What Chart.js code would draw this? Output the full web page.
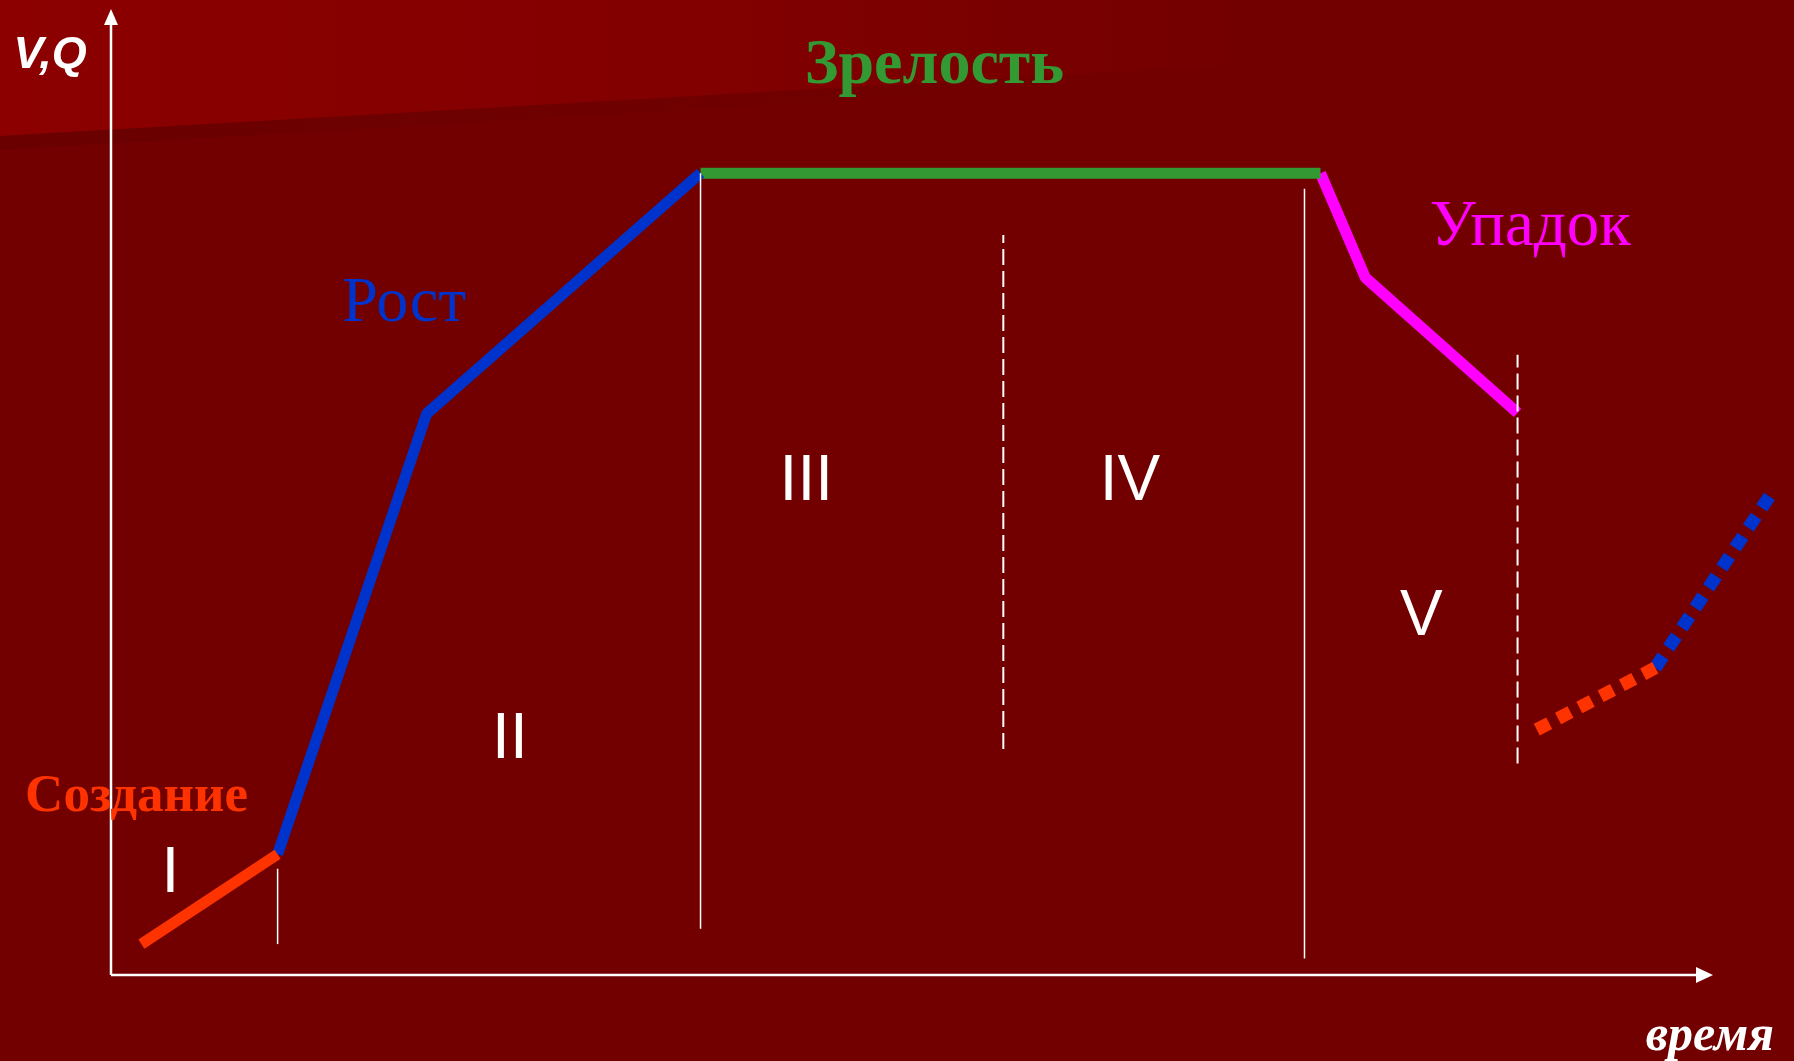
<!DOCTYPE html>
<html>
<head>
<meta charset="utf-8">
<script src="https://cdn.jsdelivr.net/npm/chart.js@4"></script>
<style>
html,body{margin:0;padding:0;background:#720000;overflow:hidden;}
#wrap{width:1794px;height:1061px;position:relative;}
</style>
</head>
<body>
<div id="wrap"><canvas id="c" width="1794" height="1061"></canvas></div>
<script>
// ---- data (time units 0..100 on x, V,Q units 0..100 on y) ----
const creationX = [1.9, 10.4];
const creationY = [3.2, 12.5];
const growthX = [10.4, 19.7, 36.8];
const growthY = [12.5, 58.1, 83.0];
const maturityX = [36.8, 75.5];
const maturityY = [83.0, 83.0];
const declineX = [75.5, 78.3, 87.8];
const declineY = [83.0, 72.2, 58.2];
const revivalRedX = [89.0, 96.4];
const revivalRedY = [25.4, 31.8];
const revivalBlueX = [96.4, 103.7];
const revivalBlueY = [31.8, 50.0];

// stage boundaries: x, yFrom, yTo, dashed
const boundaryX = [10.4, 36.8, 55.7, 74.5, 87.8];
const boundaryYFrom = [3.2, 4.8, 23.4, 1.7, 21.9];
const boundaryYTo = [11.0, 83.0, 76.6, 81.4, 64.2];
const boundaryDashed = [false, false, true, false, true];

// stage numerals
const stageLabels = ['I', 'II', 'III', 'IV', 'V'];
const stageX = [3.7, 24.9, 43.4, 63.6, 81.8];
const stageY = [10.6, 24.5, 51.2, 51.2, 37.2];

// phase names
const phaseLabels = ['Создание', 'Рост', 'Зрелость', 'Упадок'];
const phaseX = [1.6, 18.3, 51.4, 88.6];
const phaseY = [17.0, 67.7, 92.3, 75.6];

// axis titles
const axisTitles = ['V,Q', 'время'];
const axisTitleX = [-3.8, 99.8];
const axisTitleY = [93.9, -7.8];

function pts(xs, ys){ return xs.map((x,i)=>({x:x, y:ys[i]})); }

const RED = '#ff3300', BLUE = '#0033cc', GREEN = '#339933', MAGENTA = '#ff00ff';

const datasets = [];
boundaryX.forEach((x,i)=>{
  datasets.push({
    data: [{x:x,y:boundaryYFrom[i]},{x:x,y:boundaryYTo[i]}],
    borderColor: '#ffffff',
    borderWidth: boundaryDashed[i] ? 2 : 1.5,
    borderDash: boundaryDashed[i] ? [16,6] : [],
    pointRadius: 0, clip: false, borderCapStyle: 'butt'
  });
});
function seg(xs, ys, color, dotted){
  return {
    data: pts(xs, ys), borderColor: color, borderWidth: dotted ? 13 : 11,
    borderDash: dotted ? [14,10] : [], pointRadius: 0, tension: 0,
    clip: false, borderCapStyle: 'butt', borderJoinStyle: 'bevel'
  };
}
datasets.push(seg(creationX, creationY, RED, false));
datasets.push(seg(growthX, growthY, BLUE, false));
datasets.push(seg(maturityX, maturityY, GREEN, false));
datasets.push(seg(declineX, declineY, MAGENTA, false));
datasets.push(seg(revivalRedX, revivalRedY, RED, true));
datasets.push(seg(revivalBlueX, revivalBlueY, BLUE, true));

const bgPlugin = {
  id: 'bg',
  beforeDraw(chart){
    const ctx = chart.ctx, W = chart.width, H = chart.height;
    ctx.save();
    ctx.fillStyle = '#720000';
    ctx.fillRect(0,0,W,H);
    // lighter slanted band at the top
    const g = ctx.createLinearGradient(0,0,1250,0);
    g.addColorStop(0,'#8c0000');
    g.addColorStop(0.55,'#820000');
    g.addColorStop(1,'#730000');
    ctx.fillStyle = g;
    ctx.beginPath();
    ctx.moveTo(0,0); ctx.lineTo(1250,0); ctx.lineTo(1250,64); ctx.lineTo(0,136); ctx.closePath();
    ctx.fill();
    // slight shadow under the band
    const g2 = ctx.createLinearGradient(0,0,1000,0);
    g2.addColorStop(0,'rgba(90,0,0,0.35)');
    g2.addColorStop(1,'rgba(90,0,0,0)');
    ctx.fillStyle = g2;
    ctx.beginPath();
    ctx.moveTo(0,136); ctx.lineTo(1000,78); ctx.lineTo(1000,92); ctx.lineTo(0,150); ctx.closePath();
    ctx.fill();
    ctx.restore();
  },
  beforeDatasetsDraw(chart){
    const ctx = chart.ctx, xs = chart.scales.x, ys = chart.scales.y;
    const x0 = xs.getPixelForValue(0), y0 = ys.getPixelForValue(0);
    const xEnd = xs.getPixelForValue(100), yTop = ys.getPixelForValue(100);
    ctx.save();
    ctx.strokeStyle = '#ffffff'; ctx.fillStyle = '#ffffff'; ctx.lineWidth = 2.5;
    ctx.beginPath(); ctx.moveTo(x0, y0); ctx.lineTo(x0, yTop + 14); ctx.stroke();
    ctx.beginPath(); ctx.moveTo(x0, y0); ctx.lineTo(xEnd - 15, y0); ctx.stroke();
    ctx.beginPath(); ctx.moveTo(x0, yTop); ctx.lineTo(x0 - 7, yTop + 16); ctx.lineTo(x0 + 7, yTop + 16); ctx.closePath(); ctx.fill();
    ctx.beginPath(); ctx.moveTo(xEnd, y0); ctx.lineTo(xEnd - 17, y0 - 8); ctx.lineTo(xEnd - 17, y0 + 8); ctx.closePath(); ctx.fill();
    ctx.restore();
  },
  afterDatasetsDraw(chart){
    const ctx = chart.ctx, xs = chart.scales.x, ys = chart.scales.y;
    ctx.save();
    ctx.textAlign = 'center';
    // roman numerals
    ctx.fillStyle = '#ffffff';
    ctx.font = '64px "Liberation Sans", Arial, sans-serif';
    ctx.textBaseline = 'middle';
    stageLabels.forEach((t,i)=>{
      ctx.fillText(t, xs.getPixelForValue(stageX[i]), ys.getPixelForValue(stageY[i]) + 2);
    });
    ctx.textBaseline = 'alphabetic';
    const phaseFonts = [
      'bold 53px "Liberation Serif", "Times New Roman", serif',
      '64px "Liberation Serif", "Times New Roman", serif',
      'bold 64px "Liberation Serif", "Times New Roman", serif',
      '65px "Liberation Serif", "Times New Roman", serif'
    ];
    const phaseColors = [RED, BLUE, GREEN, MAGENTA];
    phaseLabels.forEach((t,i)=>{
      ctx.font = phaseFonts[i];
      ctx.fillStyle = phaseColors[i];
      ctx.fillText(t, xs.getPixelForValue(phaseX[i]), ys.getPixelForValue(phaseY[i]));
    });
    ctx.fillStyle = '#ffffff';
    ctx.font = 'italic bold 45px "Liberation Sans", Arial, sans-serif';
    ctx.fillText(axisTitles[0], xs.getPixelForValue(axisTitleX[0]), ys.getPixelForValue(axisTitleY[0]));
    ctx.font = 'italic bold 50px "Liberation Serif", "Times New Roman", serif';
    ctx.fillText(axisTitles[1], xs.getPixelForValue(axisTitleX[1]), ys.getPixelForValue(axisTitleY[1]));
    ctx.restore();
  }
};

new Chart(document.getElementById('c'), {
  type: 'line',
  data: { datasets: datasets },
  options: {
    responsive: false,
    devicePixelRatio: 1,
    animation: false,
    layout: { padding: { left: 111, right: 81, top: 9, bottom: 86 } },
    plugins: { legend: { display: false }, tooltip: { enabled: false } },
    scales: {
      x: { type: 'linear', min: 0, max: 100, display: false },
      y: { type: 'linear', min: 0, max: 100, display: false }
    },
    elements: { line: { tension: 0 } }
  },
  plugins: [bgPlugin]
});
</script>
</body>
</html>
